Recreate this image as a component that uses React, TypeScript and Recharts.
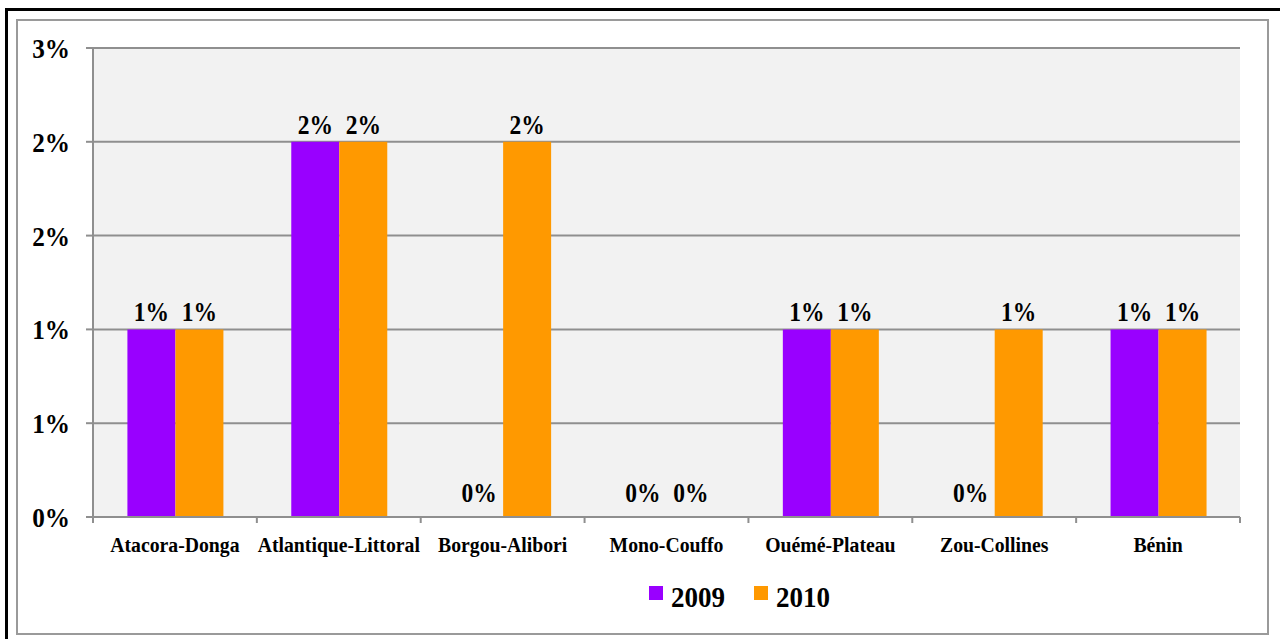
import { BarChart, Bar, XAxis, YAxis, CartesianGrid, Legend, LabelList } from 'recharts'

const categories = [
  'Atacora-Donga',
  'Atlantique-Littoral',
  'Borgou-Alibori',
  'Mono-Couffo',
  'Ouémé-Plateau',
  'Zou-Collines',
  'Bénin',
]
const values2009 = [1, 2, 0, 0, 1, 0, 1]
const values2010 = [1, 2, 2, 0, 1, 1, 1]
const yTicks = [0, 0.5, 1, 1.5, 2, 2.5]

const series = [
  { key: 'y2009', name: '2009', color: '#9900ff' },
  { key: 'y2010', name: '2010', color: '#ff9900' },
]

const data = categories.map((c, i) => ({ name: c, y2009: values2009[i], y2010: values2010[i] }))

const W = 1280
const H = 639
const Y_W = 93
const M_RIGHT = 40
const FONT = '"Liberation Serif", "Times New Roman", serif'
const GRAY = '#8f8f8f'

const pct = (v: number) => `${Math.round(v)}%`

// Times-like text, a little narrower than it is tall (as in the original export)
function SerifText({ x, y, size, sx, anchor, children }: any) {
  return (
    <text
      transform={`translate(${x},${y}) scale(${sx},1)`}
      textAnchor={anchor}
      fontFamily={FONT}
      fontWeight="bold"
      fontSize={size}
      fill="#000"
    >
      {children}
    </text>
  )
}

function CategoryTick({ x, y, payload, index }: any) {
  const half = (W - Y_W - M_RIGHT) / categories.length / 2
  return (
    <g>
      <line x1={x - half} x2={x - half} y1={y} y2={y + 6} stroke={GRAY} strokeWidth={2} />
      {index === categories.length - 1 && (
        <line x1={x + half} x2={x + half} y1={y} y2={y + 6} stroke={GRAY} strokeWidth={2} />
      )}
      <SerifText x={x} y={y + 35} size={21} sx={0.94} anchor="middle">
        {payload.value}
      </SerifText>
    </g>
  )
}

function PercentTick({ x, y, payload }: any) {
  return (
    <SerifText x={x} y={y + 10} size={28} sx={0.9} anchor="end">
      {pct(payload.value)}
    </SerifText>
  )
}

function BarValue({ x, y, width, value }: any) {
  const gap = Number(value) === 0 ? 15 : 8
  return (
    <SerifText x={x + width / 2} y={y - gap} size={28} sx={0.84} anchor="middle">
      {pct(Number(value))}
    </SerifText>
  )
}

function LegendContent() {
  return (
    <div style={{ height: 60, boxSizing: 'border-box', paddingTop: 23, paddingLeft: 649, display: 'flex', alignItems: 'flex-start' }}>
      {series.map((s, i) => (
        <div key={s.key} style={{ display: 'flex', alignItems: 'flex-start', marginLeft: i ? 23 : 0 }}>
          <span style={{ width: 14, height: 14, background: s.color, marginTop: 6, marginRight: 8 }} />
          <span
            style={{
              display: 'inline-block',
              fontFamily: FONT,
              fontWeight: 'bold',
              fontSize: 30,
              color: '#000',
              lineHeight: 'normal',
              transform: 'scaleX(0.9)',
              transformOrigin: 'left',
            }}
          >
            {s.name}
          </span>
        </div>
      ))}
    </div>
  )
}

export default function App() {
  return (
    <div style={{ position: 'relative', width: W, height: H, overflow: 'hidden', background: '#fff', fontFamily: FONT }}>
      <style>{'body{margin:0;overflow:hidden}'}</style>
      {/* frames */}
      <div style={{ position: 'absolute', left: 5, top: 8, width: 1272, height: 640, border: '3px solid #000' }} />
      <div style={{ position: 'absolute', left: 16, top: 19, width: 1249, height: 612, border: '2px solid #9a9a9a' }} />
      <div style={{ position: 'absolute', left: 0, top: 0 }}>
        <BarChart
          width={W}
          height={H}
          data={data}
          margin={{ top: 48, right: M_RIGHT, left: 0, bottom: 22 }}
          barCategoryGap="21%"
          barGap={0}
        >
          <CartesianGrid vertical={false} stroke={GRAY} strokeWidth={2} fill="#f2f2f2" />
          <XAxis
            dataKey="name"
            height={40}
            tickLine={false}
            tickSize={0}
            tickMargin={0}
            axisLine={{ stroke: GRAY, strokeWidth: 2 }}
            tick={<CategoryTick />}
            interval={0}
          />
          <YAxis
            width={Y_W}
            domain={[0, 2.5]}
            ticks={yTicks}
            tickSize={7}
            tickMargin={16}
            axisLine={{ stroke: GRAY, strokeWidth: 2 }}
            tickLine={{ stroke: GRAY, strokeWidth: 2 }}
            tick={<PercentTick />}
          />
          <Legend verticalAlign="bottom" content={<LegendContent />} wrapperStyle={{ left: 0, width: W }} />
          {series.map((s) => (
            <Bar key={s.key} dataKey={s.key} name={s.name} fill={s.color} minPointSize={0.01} isAnimationActive={false}>
              <LabelList dataKey={s.key} content={<BarValue />} />
            </Bar>
          ))}
        </BarChart>
      </div>
    </div>
  )
}
